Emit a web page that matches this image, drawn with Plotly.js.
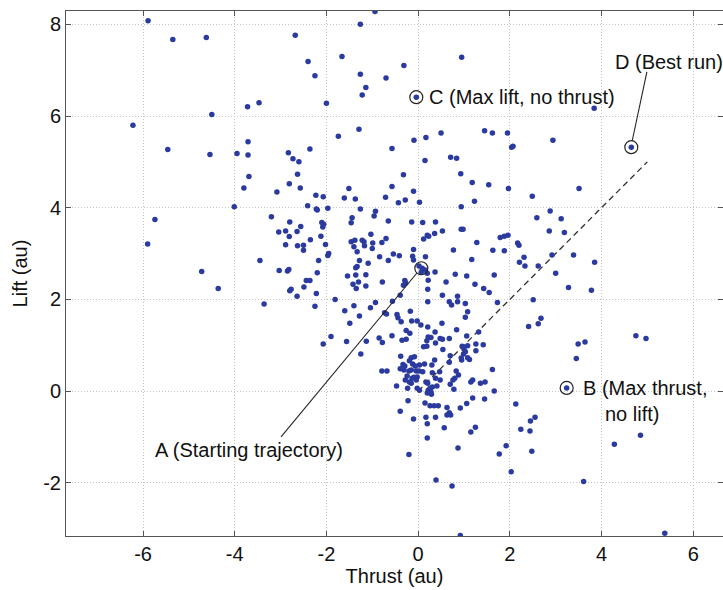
<!DOCTYPE html>
<html>
<head>
<meta charset="utf-8">
<script src="https://cdn.plot.ly/plotly-3.0.1.min.js"></script>
<style>html,body{margin:0;padding:0;background:#fff;}#chart{width:723px;height:590px;}</style>
</head>
<body>
<div id="chart"></div>
<script>
// Thrust (au) of each run
const thrust = [
-5.89,-5.35,-4.62,-3.72,-3.47,-4.50,-6.22,-3.71,-5.46,-4.54,-3.95,-3.71,-2.83,-3.69,-3.80,
-0.94,-2.68,-1.26,-2.40,-1.66,-2.25,-1.26,-0.70,-0.31,-1.14,-1.22,-2.00,-0.04,0.95,-1.74,
-1.29,-0.57,-0.09,0.17,0.50,1.45,1.62,-2.73,-2.60,-2.36,-2.63,-2.81,-2.57,-1.51,-0.57,
-0.32,0.15,0.71,0.84,0.93,1.18,1.54,-0.10,3.84,4.65,1.95,2.04,2.07,2.94,1.97,3.51,
-3.08,-4.01,-3.20,-2.80,-5.74,-3.04,-2.89,-2.81,-2.89,-5.90,-3.45,-3.03,-2.85,-2.82,-2.80,
-2.77,-4.72,-4.36,-3.36,-2.23,-2.07,-1.61,-1.37,-0.71,-2.41,-2.22,-2.20,-1.97,-1.26,-0.93,
-0.96,-0.65,-2.64,-2.56,-2.10,-2.06,-2.08,-1.44,-1.46,-2.12,-2.35,-2.63,-2.50,-2.50,-2.02,
-1.95,-1.97,-1.03,-1.46,-1.38,-1.22,-1.18,-0.99,-0.79,-1.40,-1.17,-1.00,-1.33,-0.84,-0.65,
-1.28,-1.09,-2.17,-2.20,-1.36,-1.33,-1.54,-1.36,-1.14,-0.78,-1.42,-1.30,-1.35,-1.14,-2.64,
-2.49,-2.44,-2.36,-2.22,-2.25,-1.81,-1.60,-1.40,-1.28,-1.04,-0.93,-1.49,-1.90,-0.85,-0.73,
-0.43,-0.28,0.03,1.23,0.94,-0.70,-0.14,0.10,0.38,0.20,0.23,0.12,0.36,0.53,0.94,0.98,1.28,
1.79,1.88,1.96,-0.54,-0.41,-0.10,-0.12,-0.10,0.16,0.77,1.17,1.63,0.02,0.09,0.15,0.07,0.20,
0.37,0.81,1.06,1.66,0.22,0.61,1.24,1.43,1.55,1.73,-0.29,-0.27,-0.32,0.21,0.53,0.86,0.86,
0.68,0.73,1.03,1.08,1.03,0.21,-0.39,-0.56,-0.69,-0.46,-0.44,-0.17,0.06,-0.02,-0.14,-0.37,
0.21,0.52,0.37,0.68,0.84,1.32,1.06,0.48,-0.26,-0.18,-2.07,-1.56,-1.25,-1.13,-0.78,-0.57,
-0.35,-0.26,0.22,0.28,0.19,0.53,0.38,0.19,0.12,0.54,0.70,0.96,1.00,1.03,1.08,1.26,1.42,
1.26,0.99,0.94,0.95,1.08,1.12,-0.38,-0.15,-0.08,-0.19,-0.33,-0.29,-0.39,-0.31,-0.12,-0.06,
0.03,0.14,-0.20,-0.15,-0.04,0.02,0.10,0.30,0.36,0.31,0.47,0.68,-0.79,-0.68,-0.24,-0.13,
-0.09,-0.02,-0.04,-0.28,-0.19,-0.15,-0.23,-0.02,0.03,0.17,0.21,0.38,0.48,0.31,0.26,0.22,
0.28,0.29,0.41,0.20,0.80,0.88,0.76,0.83,0.70,1.15,1.19,1.36,1.46,1.62,-0.47,-0.22,-0.39,
-0.10,0.15,0.26,0.35,0.44,0.17,0.38,0.20,0.63,0.68,0.63,0.71,0.57,0.20,0.87,-0.20,0.39,
0.74,0.78,1.06,0.92,1.19,1.45,1.66,1.25,1.15,1.92,1.77,2.03,2.13,2.24,0.92,2.45,2.55,2.44,
2.48,3.61,4.28,4.85,5.38,3.24,2.49,2.59,2.88,3.12,2.86,3.19,1.88,2.17,2.20,2.31,2.21,2.33,
2.62,2.92,3.39,3.85,3.00,3.28,3.78,2.51,2.68,2.41,2.62,3.49,3.64,3.45,4.75,4.97
];
// Lift (au) of each run
const lift = [
8.08,7.67,7.71,6.20,6.29,6.03,5.80,5.44,5.27,5.16,5.18,5.15,5.20,4.68,4.43,
8.28,7.76,8.00,7.19,7.30,6.88,6.91,6.83,7.10,6.62,6.46,6.28,6.41,7.28,5.56,
5.71,5.29,5.47,5.53,5.63,5.68,5.63,5.07,5.00,5.28,4.73,4.52,4.43,4.42,4.46,
4.72,5.03,5.10,5.08,4.74,4.55,4.50,4.36,6.17,5.32,5.63,5.32,5.34,5.47,4.42,4.42,
4.34,4.02,3.80,3.69,3.74,3.47,3.49,3.37,3.19,3.21,2.85,2.63,2.62,2.65,2.19,
2.22,2.61,2.24,1.90,4.27,4.24,4.21,4.19,4.23,4.04,3.97,3.95,3.99,3.97,3.92,
3.82,3.71,3.48,3.59,3.68,3.64,3.58,3.78,3.67,3.38,3.30,3.17,3.18,3.07,3.20,
3.00,2.96,3.42,3.26,3.29,3.29,3.26,3.23,3.24,3.15,3.17,3.11,3.04,2.93,2.85,
2.85,2.79,2.85,2.58,2.69,2.72,2.51,2.53,2.54,2.38,2.33,2.38,2.24,2.29,2.07,
2.27,2.41,2.41,2.13,1.85,2.00,1.75,1.86,1.64,1.82,1.93,1.48,1.19,1.16,1.71,
4.11,4.17,4.12,4.14,4.02,3.33,3.69,3.68,3.69,3.40,3.38,3.32,3.44,3.49,3.53,3.53,3.24,
3.35,3.38,3.40,2.99,2.95,3.09,2.94,2.86,2.93,3.08,2.87,3.07,2.73,2.68,2.64,2.60,2.57,
2.60,2.55,2.51,2.53,2.42,2.38,2.33,2.24,2.15,1.93,2.41,2.36,2.31,2.22,2.09,2.07,1.95,
1.95,1.88,1.91,1.73,1.61,1.95,2.09,1.96,1.68,1.67,1.60,1.74,1.44,1.53,1.53,1.51,
1.40,1.48,1.29,1.15,1.34,1.29,1.20,1.15,1.32,1.26,1.03,1.08,0.81,1.09,1.06,1.21,
1.11,1.13,1.18,1.17,1.10,1.13,1.05,0.98,0.97,0.91,0.77,0.98,0.92,0.86,0.99,1.03,1.01,
0.88,0.81,0.72,0.68,0.73,0.69,0.76,0.73,0.75,0.66,0.58,0.55,0.49,0.46,0.59,0.55,
0.57,0.59,0.44,0.46,0.44,0.44,0.42,0.57,0.68,0.40,0.42,0.63,0.44,0.44,0.33,0.28,
0.30,0.31,0.24,0.24,0.20,0.17,0.06,0.06,0.02,0.20,0.17,0.28,0.24,0.09,0.06,0.02,
-0.02,-0.07,0.11,-0.04,0.28,0.35,0.24,0.44,0.15,0.20,0.24,0.17,0.20,0.47,0.11,-0.21,-0.44,
-0.61,-0.26,-0.32,-0.32,-0.32,-0.57,-0.57,-0.71,-0.36,-0.47,-0.52,-0.52,-0.80,-1.02,-1.24,-1.38,-1.94,
-2.07,0.04,-0.27,-0.37,-0.15,-0.17,0.00,-0.79,-0.89,-1.19,-1.37,-1.76,-0.28,-0.83,-3.15,-0.65,-0.57,-0.87,
-1.31,-1.97,-1.16,-0.96,-3.10,0.07,4.25,3.78,3.93,3.76,3.49,3.46,3.06,3.23,3.18,2.92,2.81,2.73,
2.73,2.97,2.97,2.81,2.57,2.26,2.20,1.99,1.59,1.41,1.47,1.03,1.07,0.71,1.21,1.15
];
// Labelled runs
const keyLabels = ["A", "B", "C", "D"];
const keyThrust = [0.07, 3.24, -0.04, 4.65];
const keyLift = [2.68, 0.07, 6.41, 5.32];
const keyText = ["A (Starting trajectory)", "B (Max thrust,", "C (Max lift, no thrust)", "D (Best run)"];
const bSecondLine = "no lift)";
// Reference direction (dashed)
const refX = [0, 5];
const refY = [0, 5];
const xTicks = [-6, -4, -2, 0, 2, 4, 6];
const yTicks = [-2, 0, 2, 4, 6, 8];

const FONT = "Liberation Sans, Arial, Helvetica, sans-serif";
const fs = 20;

const traces = [
  {
    x: refX, y: refY, type: 'scatter', mode: 'lines',
    line: {color: '#333', width: 1.3, dash: '6px,4px'},
    hoverinfo: 'skip', showlegend: false
  },
  {
    x: thrust, y: lift, type: 'scatter', mode: 'markers',
    marker: {color: '#2a3a9f', size: 5.5},
    showlegend: false
  },
  {
    x: keyThrust, y: keyLift, type: 'scatter', mode: 'markers',
    marker: {symbol: 'circle-open', size: 13, color: '#222', line: {width: 1.2, color: '#222'}},
    text: keyLabels, showlegend: false
  }
];

const annots = [
  {x: -5.79, y: -1.28, text: keyText[0], xanchor: 'left', yanchor: 'middle'},
  {x: 3.56, y: 0.06, text: keyText[1], xanchor: 'left', yanchor: 'middle'},
  {x: 4.03, y: -0.49, text: bSecondLine, xanchor: 'left', yanchor: 'middle'},
  {x: 0.20, y: 6.41, text: keyText[2], xanchor: 'left', yanchor: 'middle'},
  {x: 4.25, y: 7.18, text: keyText[3], xanchor: 'left', yanchor: 'middle'}
].map(a => Object.assign({xref: 'x', yref: 'y', showarrow: false, font: {family: FONT, size: fs, color: '#111'}}, a));

const shapes = [
  {type: 'line', xref: 'x', yref: 'y', x0: -2.99, y0: -1.00, x1: -0.03, y1: 2.57, line: {color: '#222', width: 1.1}},
  {type: 'line', xref: 'x', yref: 'y', x0: 4.67, y0: 5.46, x1: 4.99, y1: 6.96, line: {color: '#222', width: 1.1}}
];

const axisCommon = {
  showline: true, mirror: 'allticks', linecolor: '#555', linewidth: 1,
  ticks: 'inside', ticklen: 5, tickcolor: '#555', tickwidth: 1,
  showgrid: true, gridcolor: '#c4c4c4', griddash: '1px,2px', gridwidth: 1,
  zeroline: false, tickfont: {family: FONT, size: fs, color: '#111'},
  automargin: false, fixedrange: true
};

const layout = {
  width: 723, height: 590,
  margin: {l: 66, r: 0, t: 11, b: 54},
  paper_bgcolor: '#fff', plot_bgcolor: '#fff',
  showlegend: false,
  xaxis: Object.assign({}, axisCommon, {
    range: [-7.68, 6.65], tickvals: xTicks, ticktext: xTicks.map(String),
    title: {text: 'Thrust (au)', font: {family: FONT, size: fs, color: '#111'}, standoff: 4}
  }),
  yaxis: Object.assign({}, axisCommon, {
    range: [-3.16, 8.29], tickvals: yTicks, ticktext: yTicks.map(String),
    title: {text: 'Lift (au)', font: {family: FONT, size: fs, color: '#111'}, standoff: 10}
  }),
  annotations: annots,
  shapes: shapes
};

Plotly.newPlot('chart', traces, layout, {displayModeBar: false, staticPlot: true});
</script>
</body>
</html>
